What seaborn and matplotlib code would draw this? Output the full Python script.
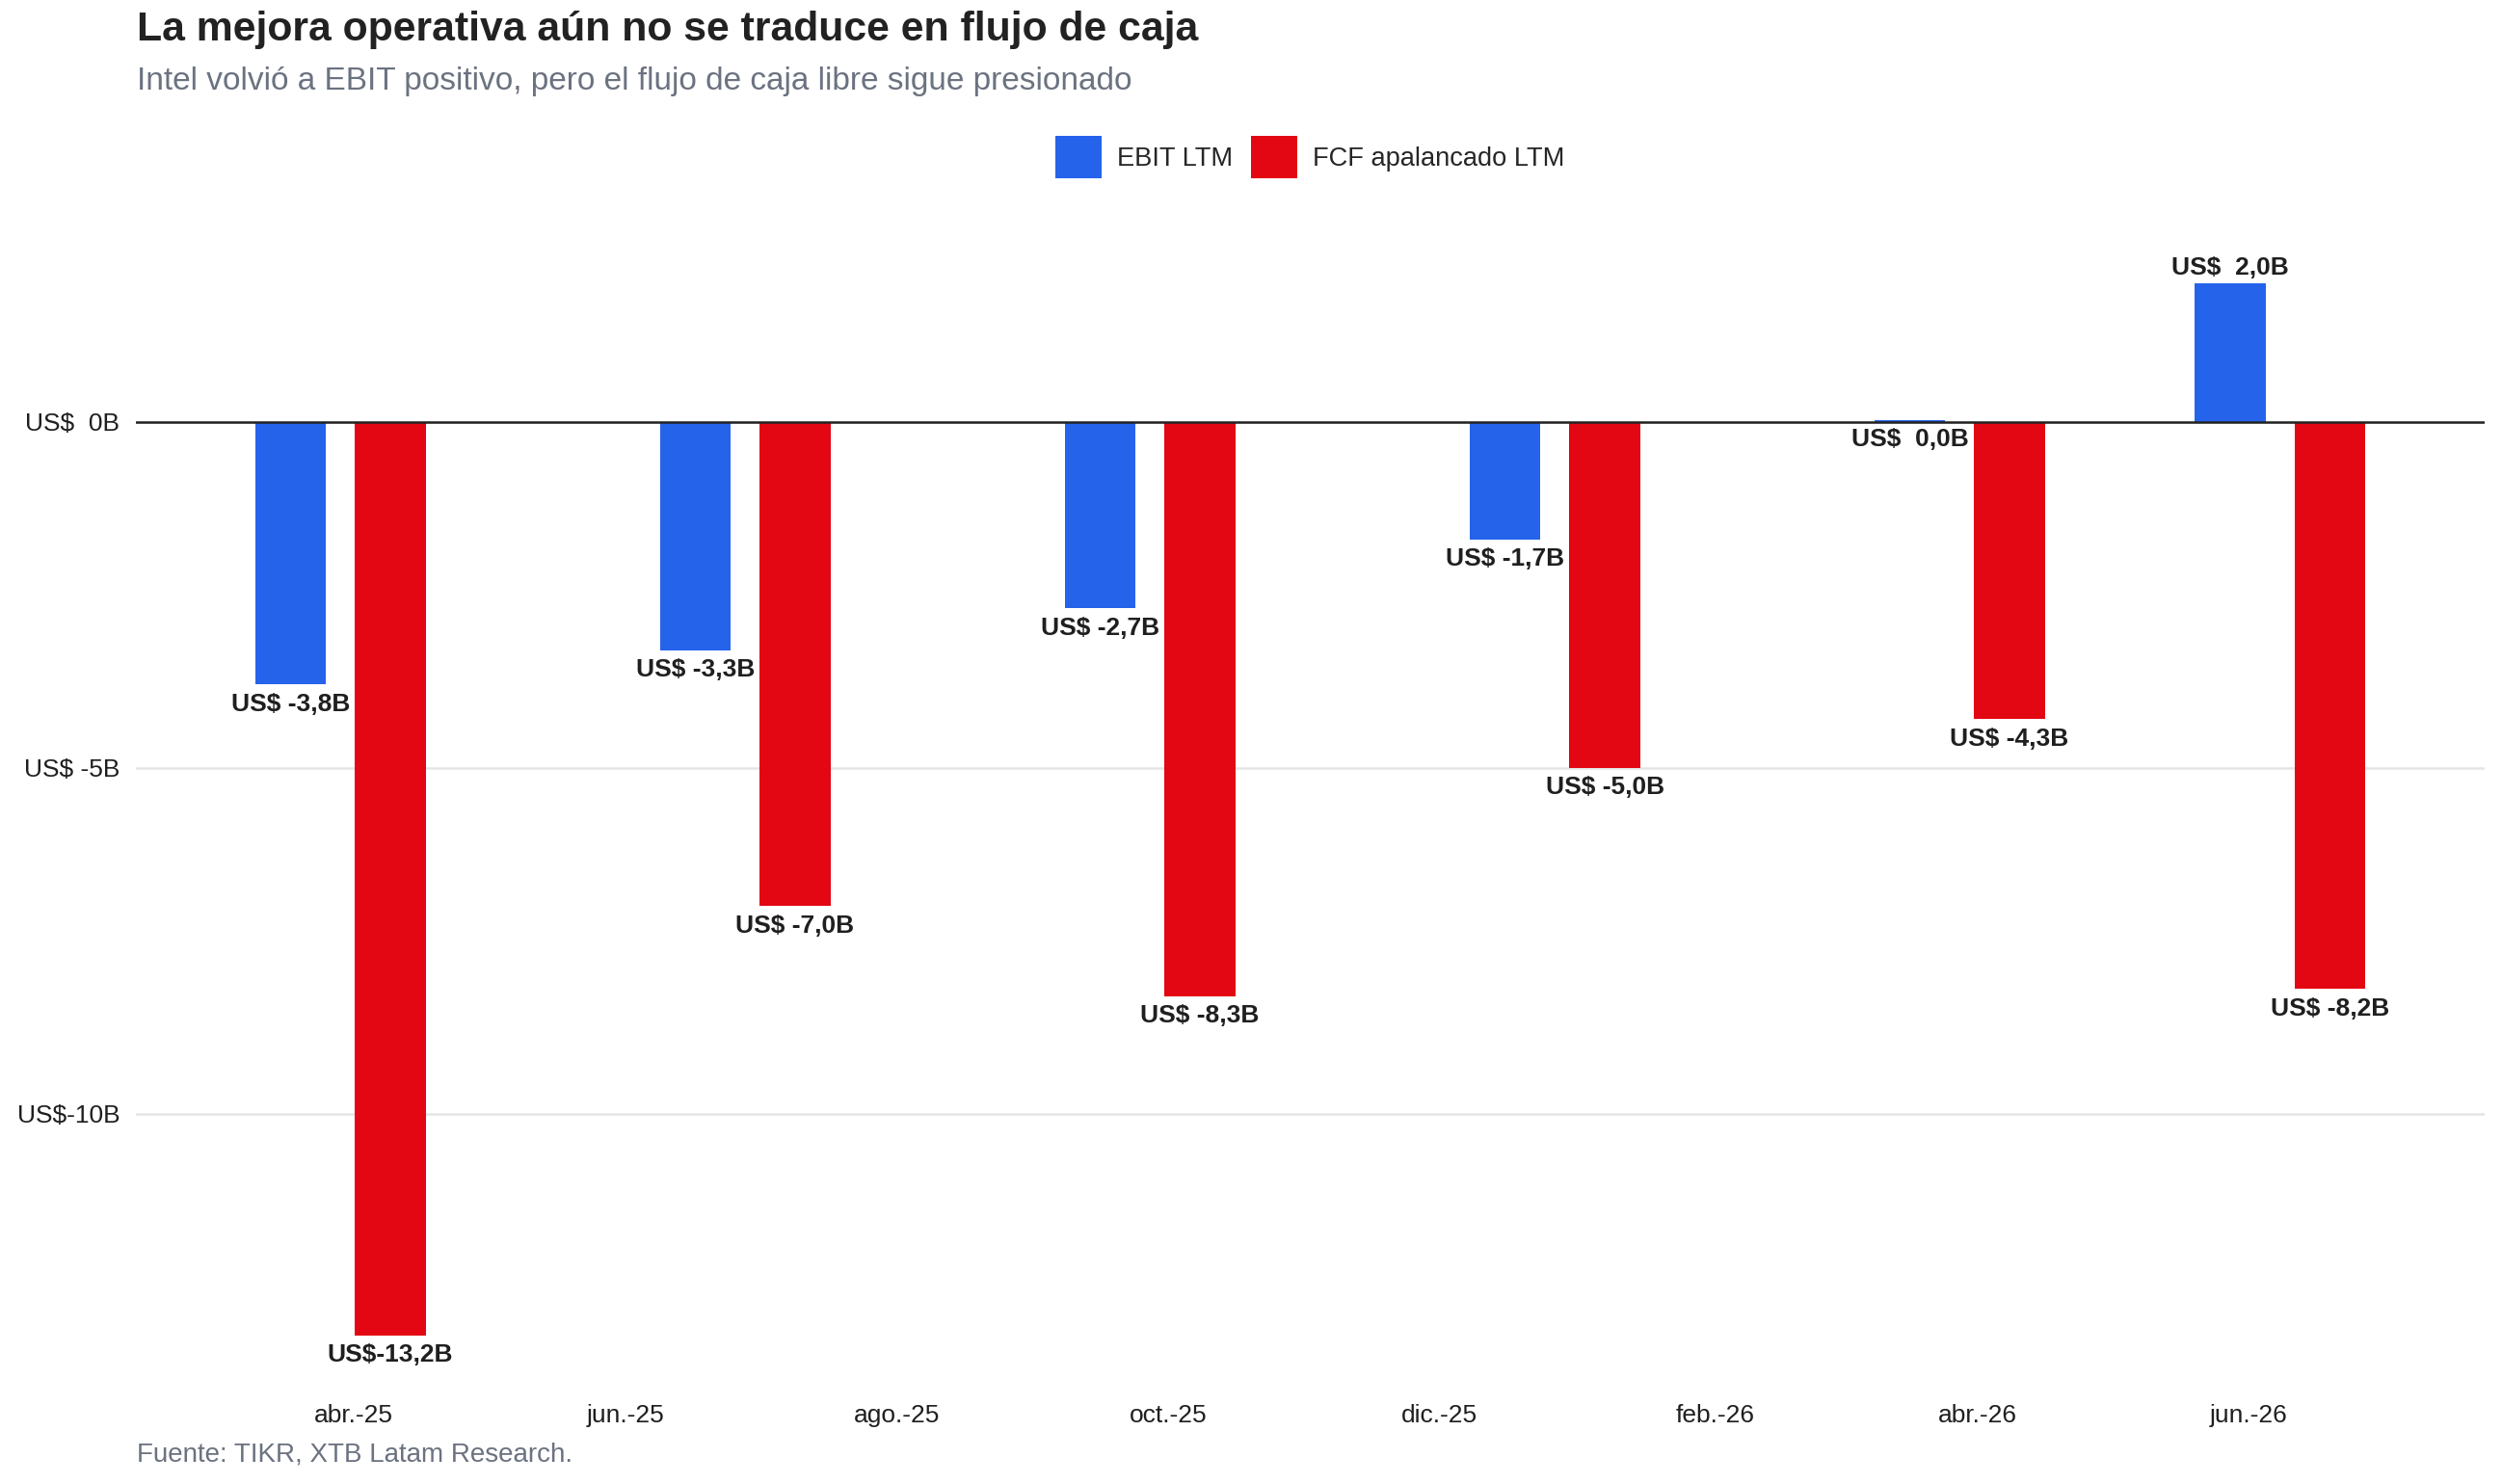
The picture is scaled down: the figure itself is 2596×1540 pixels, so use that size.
import matplotlib.pyplot as plt
import matplotlib.dates as mdates
from matplotlib.patches import Patch
import pandas as pd
import seaborn as sns

# Data (US$ billions, LTM)
periods = ["2025-03-29", "2025-06-28", "2025-09-27", "2025-12-27", "2026-03-28", "2026-06-08"]
ebit_ltm = [-3.8, -3.3, -2.7, -1.7, 0.02, 2.0]
fcf_ltm = [-13.2, -7.0, -8.3, -5.0, -4.3, -8.2]
series_names = ["EBIT LTM", "FCF apalancado LTM"]
tick_dates = ["2025-04-01", "2025-06-01", "2025-08-01", "2025-10-01",
              "2025-12-01", "2026-02-01", "2026-04-01", "2026-06-01"]
tick_labels = ["abr.-25", "jun.-25", "ago.-25", "oct.-25", "dic.-25", "feb.-26", "abr.-26", "jun.-26"]
y_ticks = [-10, -5, 0]

colors = {"EBIT LTM": "#2563EB", "FCF apalancado LTM": "#E30613"}

# Long format table for seaborn
dates = pd.to_datetime(periods)
df = pd.DataFrame({
    "fecha": list(mdates.date2num(dates)) * 2,
    "valor": ebit_ltm + fcf_ltm,
    "serie": [series_names[0]] * len(periods) + [series_names[1]] * len(periods),
})

sns.set_style("white")
plt.rcParams["font.family"] = ["Liberation Sans", "DejaVu Sans"]

fig = plt.figure(figsize=(12.98, 7.7), dpi=200)
ax = fig.add_axes([0.0543, 0.063, 0.9388, 0.7928])

sns.barplot(data=df, x="fecha", y="valor", hue="serie", hue_order=series_names,
            palette=colors, native_scale=True, width=0.622, gap=0.29,
            saturation=1, errorbar=None, linewidth=0, legend=False, ax=ax)

# Value labels
for container in ax.containers:
    for bar in container:
        v = bar.get_height()
        x = bar.get_x() + bar.get_width() / 2
        above = v > 0.1
        txt = f"US${v:5.1f}B".replace(".", ",")
        ax.annotate(txt, (x, v), xytext=(0, 1.5 if above else -3), textcoords="offset points",
                    ha="center", va="bottom" if above else "top",
                    fontsize=9.5, fontweight="bold", color="#1f1f1f")

# Axes formatting
pad = 46
xmin = mdates.date2num(dates.min() - pd.Timedelta(days=pad))
xmax = mdates.date2num(dates.max() + pd.Timedelta(days=pad))
ax.set_xlim(xmin, xmax)
ax.set_ylim(-14.0, 3.0)

ax.set_xticks(mdates.date2num(pd.to_datetime(tick_dates)))
ax.set_xticklabels(tick_labels)
ax.set_yticks(y_ticks)
ax.set_yticklabels([f"US${t:3.0f}B" for t in y_ticks])
ax.tick_params(axis="both", length=0, labelsize=9.5, colors="#1f1f1f")
ax.tick_params(axis="x", pad=5)
ax.tick_params(axis="y", pad=6)
ax.set_xlabel("")
ax.set_ylabel("")

ax.yaxis.grid(True, color="#e5e5e5", linewidth=0.9)
ax.xaxis.grid(False)
ax.set_axisbelow(True)
sns.despine(ax=ax, left=True, bottom=True)
ax.axhline(0, color="#222222", linewidth=0.9, zorder=3)

# Legend, centred over the plot area
handles = [Patch(facecolor=colors[s], edgecolor="none") for s in series_names]
ax.legend(handles, series_names, loc="center", bbox_to_anchor=(0.5237, 0.894),
          bbox_transform=fig.transFigure, ncol=2, frameon=False, fontsize=9.8,
          handlelength=1.75, handleheight=2.1, handletextpad=0.6, columnspacing=0.7)

# Titles and source
fig.text(0.0547, 0.980, "La mejora operativa aún no se traduce en flujo de caja",
         fontsize=15.4, fontweight="bold", color="#222222", va="center", ha="left")
fig.text(0.0547, 0.945, "Intel volvió a EBIT positivo, pero el flujo de caja libre sigue presionado",
         fontsize=12, color="#6B7280", va="center", ha="left")
fig.text(0.0547, 0.020, "Fuente: TIKR, XTB Latam Research.",
         fontsize=10, color="#6B7280", va="center", ha="left")

fig.savefig("out.png", dpi=200)
